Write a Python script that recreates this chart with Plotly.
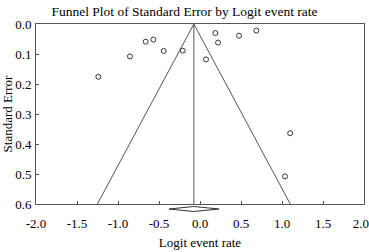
import plotly.graph_objects as go

# Study data: logit event rate and standard error
logit_rate = [-1.24, -0.854, -0.663, -0.569, -0.443, -0.211, 0.073, 0.187, 0.22, 0.476, 0.687, 1.10, 1.037]
std_error = [0.176, 0.108, 0.059, 0.052, 0.09, 0.089, 0.118, 0.03, 0.062, 0.039, 0.022, 0.364, 0.508]

pooled = -0.075
ci_low, ci_high = -0.378, 0.232
se_max = 0.6
z = 1.96

x_ticks = [-2.0, -1.5, -1.0, -0.5, 0.0, 0.5, 1.0, 1.5, 2.0]
x_ticktext = ["-2.0", "-1.5", "-1.0", "-0.5", "0.0", "0.5", "1.0", "1.5", "2.0\u00a0\u00a0"]
y_ticks = [0.0, 0.1, 0.2, 0.3, 0.4, 0.5, 0.6]
y_ticktext = ["0.0", "0.1", "0.2", "0.3", "0.4", "0.5", "0.6"]

font_family = "Liberation Serif, Times New Roman, serif"
line_col = "#555555"

fig = go.Figure()

# funnel lines
fig.add_trace(go.Scatter(
    x=[pooled - z * se_max, pooled, pooled + z * se_max],
    y=[se_max, 0, se_max],
    mode="lines", line=dict(color=line_col, width=1), hoverinfo="skip", showlegend=False))
# centre line
fig.add_trace(go.Scatter(
    x=[pooled, pooled], y=[0, se_max],
    mode="lines", line=dict(color=line_col, width=1), hoverinfo="skip", showlegend=False))
# studies
fig.add_trace(go.Scatter(
    x=logit_rate, y=std_error, mode="markers",
    marker=dict(symbol="circle-open", size=5, color="#333333", line=dict(width=1)),
    showlegend=False, cliponaxis=False))
# summary diamond (in a thin strip below the main axis)
fig.add_trace(go.Scatter(
    x=[ci_low, pooled, ci_high, pooled, ci_low],
    y=[0, 0.5, 0, -0.5, 0],
    mode="lines", fill="toself", fillcolor="white",
    line=dict(color="#333333", width=1), yaxis="y2",
    hoverinfo="skip", showlegend=False))

strip = 10 / 190

fig.update_layout(
    width=369, height=252,
    margin=dict(l=36, r=5, t=24, b=38),
    paper_bgcolor="white", plot_bgcolor="white",
    font=dict(family=font_family, size=13, color="black"),
    title=dict(text="Funnel Plot of Standard Error by Logit event rate",
               x=0.5, xanchor="center", y=0.955, yanchor="middle",
               font=dict(size=13.5, family=font_family, color="black")),
    yaxis2=dict(domain=[0, strip], range=[-1, 1], visible=False, fixedrange=True),
)
fig.update_xaxes(range=[-2, 2], tickvals=x_ticks, ticktext=x_ticktext,
                 ticks="inside", ticklen=3, tickcolor=line_col, anchor="y",
                 showline=True, linecolor=line_col, linewidth=1, mirror=True,
                 showgrid=False, zeroline=False, automargin=False,
                 ticklabeloverflow="allow", ticklabelstandoff=7,
                 title=dict(text="Logit event rate", standoff=8, font=dict(size=13)))
fig.update_layout(yaxis=dict(
    domain=[strip, 1], range=[0.6, 0], tickvals=y_ticks, ticktext=y_ticktext,
    ticks="inside", ticklen=3, tickcolor=line_col,
    showline=True, linecolor=line_col, linewidth=1, mirror=True,
    showgrid=False, zeroline=False, automargin=False,
    ticklabelstandoff=1,
    title=dict(text="Standard Error", standoff=6, font=dict(size=13))))

fig.write_html("out.html", post_script="document.body.style.margin='0';",
               config={"displayModeBar": False})
